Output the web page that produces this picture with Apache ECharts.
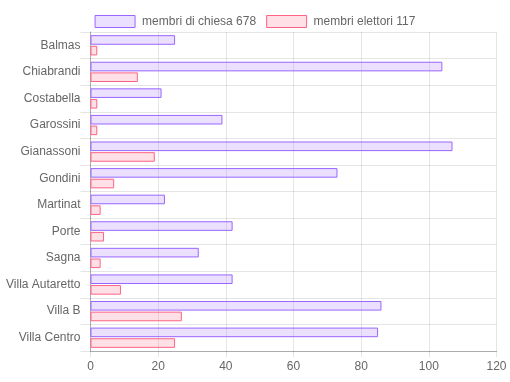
<!DOCTYPE html>
<html><head><meta charset="utf-8">
<script src="https://cdn.jsdelivr.net/npm/echarts@6/dist/echarts.min.js"></script>
<style>html,body{margin:0;padding:0;background:#fff}#c{width:510px;height:382px}</style>
</head><body><div id="c"></div>
<script>
const categories = ["Balmas","Chiabrandi","Costabella","Garossini","Gianassoni","Gondini","Martinat","Porte","Sagna","Villa Autaretto","Villa B","Villa Centro"];
const chiesa = [25,104,21,39,107,73,22,42,32,42,86,85];
const elettori = [2,14,2,2,19,7,3,4,3,9,27,25];
const seriesNames = ["membri di chiesa 678","membri elettori 117"];
const xTicks = {min:0, max:120, interval:20};

const chart = echarts.init(document.getElementById('c'), null, {renderer:'canvas'});
const font = 'Liberation Sans, Arial, Helvetica, sans-serif';
chart.setOption({
  animation:false,
  textStyle:{fontFamily:font},
  legend:{
    top:10, left:'center', itemWidth:40, itemHeight:12, itemGap:10, icon:'rect',
    itemStyle:{borderWidth:1},
    textStyle:{color:'#666', fontSize:12, fontFamily:font, padding:[0,0,0,2]},
    data:seriesNames
  },
  grid:{left:90.5, right:13.5, top:32, bottom:31, containLabel:false},
  xAxis:{
    type:'value', min:xTicks.min, max:xTicks.max, interval:xTicks.interval,
    axisLine:{show:true, lineStyle:{color:'rgba(0,0,0,0.25)'}},
    axisTick:{show:true, length:6, lineStyle:{color:'rgba(0,0,0,0.1)'}},
    axisLabel:{color:'#666', fontSize:12, fontFamily:font, margin:10},
    splitLine:{show:true, lineStyle:{color:'rgba(0,0,0,0.1)'}}
  },
  yAxis:{
    type:'category', data:categories, inverse:true,
    axisLine:{show:true, lineStyle:{color:'rgba(0,0,0,0.25)'}},
    axisTick:{show:true, length:10, lineStyle:{color:'rgba(0,0,0,0.1)'}},
    axisLabel:{color:'#666', fontSize:12, fontFamily:font, margin:10},
    splitLine:{show:true, lineStyle:{color:'rgba(0,0,0,0.1)'}}
  },
  series:[
    {name:seriesNames[0], type:'bar', data:chiesa, barWidth:9.6, barGap:'11%',
     itemStyle:{color:'rgba(153,102,255,0.2)', borderColor:'rgb(153,102,255)', borderWidth:1}},
    {name:seriesNames[1], type:'bar', data:elettori, barWidth:9.6, barGap:'11%',
     itemStyle:{color:'rgba(255,99,132,0.2)', borderColor:'rgb(255,99,132)', borderWidth:1}}
  ]
});
</script></body></html>
